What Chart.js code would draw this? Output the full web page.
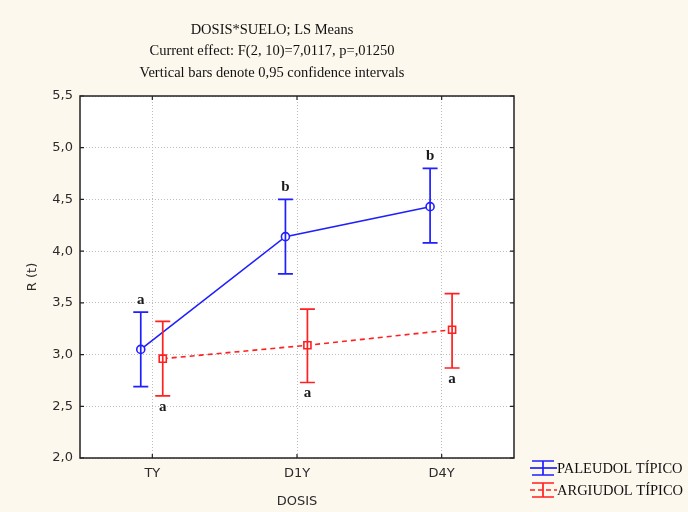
<!DOCTYPE html>
<html>
<head>
<meta charset="utf-8">
<script src="https://cdn.jsdelivr.net/npm/chart.js@4.4.0/dist/chart.umd.min.js"></script>
<style>
  html, body { margin: 0; padding: 0; background: #fdf8ee; }
  #wrap { width: 688px; height: 512px; }
</style>
</head>
<body>
<div id="wrap"><canvas id="chart" width="688" height="512"></canvas></div>
<script>
const categories = ['TY', 'D1Y', 'D4Y'];
const seriesNames = ['PALEUDOL TÍPICO', 'ARGIUDOL TÍPICO'];
const paleudolMeans = [3.05, 4.14, 4.43];
const paleudolLow = [2.69, 3.78, 4.08];
const paleudolHigh = [3.41, 4.50, 4.80];
const paleudolLetters = ['a', 'b', 'b'];
const argiudolMeans = [2.96, 3.09, 3.24];
const argiudolLow = [2.60, 2.73, 2.87];
const argiudolHigh = [3.32, 3.44, 3.59];
const argiudolLetters = ['a', 'a', 'a'];
const yTicks = [2.0, 2.5, 3.0, 3.5, 4.0, 4.5, 5.0, 5.5];
const titleLines = [
  'DOSIS*SUELO; LS Means',
  'Current effect: F(2, 10)=7,0117, p=,01250',
  'Vertical bars denote 0,95 confidence intervals'
];

const BLUE = '#1f1fff';
const RED = '#ff2020';
const SERIF = '"Liberation Serif", "Times New Roman", serif';
const SANS = '"DejaVu Sans", Verdana, sans-serif';

// small side shift so the two series don't overlap
const shiftP = -0.08, shiftA = 0.072;

function toPoints(vals, shift) {
  return vals.map((v, i) => ({ x: i + shift, y: v }));
}

const series = [
  { means: paleudolMeans, low: paleudolLow, high: paleudolHigh, letters: paleudolLetters, shift: shiftP, color: BLUE, up: true, dash: [] },
  { means: argiudolMeans, low: argiudolLow, high: argiudolHigh, letters: argiudolLetters, shift: shiftA, color: RED, up: false, dash: [5, 4] }
];

const decorPlugin = {
  id: 'decor',
  beforeDraw(chart) {
    const { ctx, chartArea: a } = chart;
    ctx.save();
    ctx.fillStyle = '#fdf8ee';
    ctx.fillRect(0, 0, chart.width, chart.height);
    ctx.fillStyle = '#ffffff';
    ctx.fillRect(a.left, a.top, a.right - a.left, a.bottom - a.top);
    ctx.restore();
  },
  afterDatasetsDraw(chart) {
    const { ctx, scales } = chart;
    const xs = scales.x, ys = scales.y;
    ctx.save();
    // error bars + letters
    series.forEach(s => {
      s.means.forEach((m, i) => {
        const px = xs.getPixelForValue(i + s.shift);
        const pLo = ys.getPixelForValue(s.low[i]);
        const pHi = ys.getPixelForValue(s.high[i]);
        ctx.strokeStyle = s.color;
        ctx.lineWidth = 1.7;
        ctx.setLineDash([]);
        ctx.beginPath();
        ctx.moveTo(px, pLo); ctx.lineTo(px, pHi);
        ctx.moveTo(px - 7.5, pLo); ctx.lineTo(px + 7.5, pLo);
        ctx.moveTo(px - 7.5, pHi); ctx.lineTo(px + 7.5, pHi);
        ctx.stroke();
        ctx.fillStyle = '#1a1a1a';
        ctx.font = 'bold 15px ' + SERIF;
        ctx.textAlign = 'center';
        ctx.textBaseline = 'middle';
        const ly = s.up ? pHi - 12 : pLo + 11;
        ctx.fillText(s.letters[i], px, ly);
      });
    });
    ctx.restore();
  },
  afterDraw(chart) {
    const { ctx, chartArea: a, scales } = chart;
    const xs = scales.x, ys = scales.y;
    ctx.save();
    // frame
    ctx.strokeStyle = '#222222';
    ctx.lineWidth = 1.5;
    ctx.strokeRect(a.left, a.top, a.right - a.left, a.bottom - a.top);
    // inward tick marks
    ctx.lineWidth = 1.2;
    ctx.beginPath();
    yTicks.forEach(t => {
      const py = ys.getPixelForValue(t);
      ctx.moveTo(a.left, py); ctx.lineTo(a.left + 4, py);
      ctx.moveTo(a.right, py); ctx.lineTo(a.right - 4, py);
    });
    categories.forEach((c, i) => {
      const px = xs.getPixelForValue(i);
      ctx.moveTo(px, a.bottom); ctx.lineTo(px, a.bottom - 4);
      ctx.moveTo(px, a.top); ctx.lineTo(px, a.top + 4);
    });
    ctx.stroke();

    // titles
    ctx.fillStyle = '#111111';
    ctx.font = '14.5px ' + SERIF;
    ctx.textAlign = 'center';
    ctx.textBaseline = 'middle';
    titleLines.forEach((t, i) => ctx.fillText(t, 272, 30 + i * 21.5));

    // axis titles
    ctx.fillStyle = '#2b2b2b';
    ctx.font = '13px ' + SANS;
    ctx.fillText('DOSIS', (a.left + a.right) / 2, 502);
    ctx.save();
    ctx.translate(33, (a.top + a.bottom) / 2);
    ctx.rotate(-Math.PI / 2);
    ctx.fillText('R (t)', 0, 0);
    ctx.restore();

    // legend
    const legendY = [468, 490];
    series.forEach((s, k) => {
      const cy = legendY[k];
      ctx.strokeStyle = s.color;
      ctx.lineWidth = 1.7;
      ctx.setLineDash([]);
      ctx.beginPath();
      ctx.moveTo(543, cy - 7); ctx.lineTo(543, cy + 7);
      ctx.moveTo(532, cy - 7); ctx.lineTo(554, cy - 7);
      ctx.moveTo(532, cy + 7); ctx.lineTo(554, cy + 7);
      ctx.stroke();
      ctx.setLineDash(s.dash.length ? [5, 3] : []);
      ctx.beginPath();
      ctx.moveTo(530, cy); ctx.lineTo(557, cy);
      ctx.stroke();
      ctx.setLineDash([]);
      ctx.fillStyle = '#111111';
      ctx.font = '14.5px ' + SERIF;
      ctx.textAlign = 'left';
      ctx.textBaseline = 'middle';
      ctx.fillText(seriesNames[k], 557, cy + 1);
    });
    ctx.restore();
  }
};

const ctx = document.getElementById('chart').getContext('2d');
new Chart(ctx, {
  type: 'scatter',
  data: {
    datasets: [
      {
        label: seriesNames[0],
        data: toPoints(paleudolMeans, shiftP),
        showLine: true,
        borderColor: BLUE,
        borderWidth: 1.6,
        pointStyle: 'circle',
        pointRadius: 4,
        pointBackgroundColor: '#ffffff',
        pointBorderColor: BLUE,
        pointBorderWidth: 1.6
      },
      {
        label: seriesNames[1],
        data: toPoints(argiudolMeans, shiftA),
        showLine: true,
        borderColor: RED,
        borderWidth: 1.6,
        borderDash: [5, 4],
        pointStyle: 'rect',
        pointRadius: 5,
        pointBackgroundColor: '#ffffff',
        pointBorderColor: RED,
        pointBorderWidth: 1.6
      }
    ]
  },
  options: {
    responsive: false,
    animation: false,
    devicePixelRatio: 1,
    layout: { padding: { top: 96, right: 174, left: 0, bottom: 0 } },
    plugins: { legend: { display: false }, tooltip: { enabled: false }, title: { display: false } },
    scales: {
      x: {
        type: 'linear',
        min: -0.5,
        max: 2.5,
        afterFit: s => { s.height = 54; },
        afterBuildTicks: s => { s.ticks = categories.map((c, i) => ({ value: i })); },
        ticks: {
          padding: 8,
          color: '#2b2b2b',
          font: { family: SANS, size: 13 },
          callback: v => categories[v]
        },
        grid: { color: '#bdbdbd', lineWidth: 1, drawTicks: false },
        border: { display: false, dash: [1, 2] }
      },
      y: {
        min: 2.0,
        max: 5.5,
        afterFit: s => { s.width = 80; },
        afterBuildTicks: s => { s.ticks = yTicks.map(v => ({ value: v })); },
        ticks: {
          padding: 7,
          color: '#2b2b2b',
          font: { family: SANS, size: 13 },
          callback: v => v.toFixed(1).replace('.', ',')
        },
        grid: { color: '#bdbdbd', lineWidth: 1, drawTicks: false },
        border: { display: false, dash: [1, 2] }
      }
    }
  },
  plugins: [decorPlugin]
});
</script>
</body>
</html>
